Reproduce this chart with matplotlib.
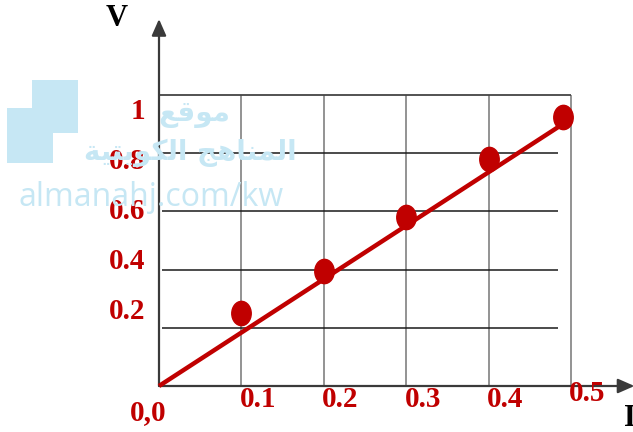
import matplotlib
matplotlib.use("Agg")
import matplotlib.pyplot as plt
from matplotlib.path import Path
from matplotlib.patches import Rectangle
from matplotlib.transforms import Affine2D

# measured current / voltage points
I_vals = [0.1, 0.2, 0.3, 0.4, 0.49]
V_vals = [0.25, 0.395, 0.58, 0.78, 0.925]
# straight line through the origin
fit_I = [0.0, 0.49]
fit_V = [0.0, 0.90]

x_ticks = [0.1, 0.2, 0.3, 0.4, 0.5]
x_labels = ["0.1", "0.2", "0.3", "0.4", "0.5"]
y_ticks = [0.2, 0.4, 0.6, 0.8, 1.0]
y_labels = ["0.2", "0.4", "0.6", "0.8", "1"]

RED = "#c00000"
AXC = "#3a3a3a"
WM = "#c6e7f4"
SERIF = ["Liberation Serif", "DejaVu Serif"]

W, H = 633, 432
fig = plt.figure(figsize=(W / 100, H / 100), dpi=100)


def fx(x):
    return x / W


def fy(y):
    return 1 - y / H


# watermark (logo blocks + text), sits under the chart
for x0, y0, x1, y1 in [(32, 80, 78, 133), (7, 108, 78, 133), (7, 108, 53, 163)]:
    fig.patches.append(Rectangle((fx(x0), fy(y1)), fx(x1) - fx(x0), fy(y0) - fy(y1),
                                 transform=fig.transFigure, color=WM, lw=0, zorder=0))
# arabic in presentation forms, laid out left to right
ar1 = "\ufeca\ufed7\ufeee\ufee3"
ar2 = ("\ufe94\ufef4\ufe98\ufef3\ufeee\ufedc\ufedf\ufe8d" + " " +
       "\ufe9e\ufeeb\ufe8e\ufee8\ufee4\ufedf\ufe8d")
fig.text(fx(194), fy(114), ar1, color=WM, fontsize=20, fontweight="bold",
         family="DejaVu Sans", ha="center", va="center", zorder=0)
fig.text(fx(190), fy(153), ar2, color=WM, fontsize=20, fontweight="bold",
         family="DejaVu Sans", ha="center", va="center", zorder=0)
fig.text(fx(151), fy(197), "almanahj.com/kw", color=WM, fontsize=23,
         family="Open Sans", ha="center", va="center", zorder=0)

# axes: origin at (159, 386) px, 0.5 A at 571 px, 1 V at 95 px
xmax, ymax = 0.58, 1.30
ax = fig.add_axes([fx(159), fy(386), xmax * 824 / W, ymax * 291 / H])
ax.set_xlim(0, xmax)
ax.set_ylim(0, ymax)
ax.axis("off")
ax.patch.set_alpha(0)

# grid
ax.vlines(x_ticks, 0, 1.0, color="#8a8a8a", lw=1.3, zorder=2)
ax.hlines(y_ticks[:-1], 0.004, 0.484, color="#1a1a1a", lw=1.1, zorder=2)
ax.hlines(y_ticks[-1], 0, 0.5, color="#444444", lw=1.3, zorder=2)

# axes with arrows
arrow = dict(arrowstyle="-|>,head_length=0.5,head_width=0.22", color=AXC, lw=1.6,
             shrinkA=0, shrinkB=0, mutation_scale=20)
ax.annotate("", xy=(0, 1.261), xytext=(0, 0), arrowprops=arrow, annotation_clip=False, zorder=3)
ax.annotate("", xy=(0.577, 0), xytext=(0, 0), arrowprops=arrow, annotation_clip=False, zorder=3)

# data
ax.plot(fit_I, fit_V, color=RED, lw=3.2, solid_capstyle="butt", zorder=4, clip_on=False)
ell = Path.unit_circle().transformed(Affine2D().scale(0.8, 1.0))
ax.plot(I_vals, V_vals, ls="none", marker=ell, markersize=17.5, color=RED, zorder=5,
        clip_on=False)

# tick labels (in the source they sit a little off the grid lines)
lab = dict(color=RED, fontsize=21, fontweight="bold", family=SERIF, zorder=6)
for v, s in zip(x_ticks, x_labels):
    ax.text(v + 0.02, -0.047 if s != "0.5" else -0.025, s, ha="center", va="center", **lab)
for v, s in zip(y_ticks, y_labels):
    ax.text(-0.017, 0.6 + 0.86 * (v - 0.6), s, ha="right", va="center", **lab)
ax.text(-0.013, -0.09, "0,0", ha="center", va="center", **lab)

fig.text(fx(117), fy(18), "V", color="black", fontsize=22, fontweight="bold",
         family=SERIF, ha="center", va="center")
fig.text(fx(624), fy(418), "I", color="black", fontsize=22, fontweight="bold",
         family=SERIF, ha="left", va="center")

fig.savefig("out.png", dpi=100)
